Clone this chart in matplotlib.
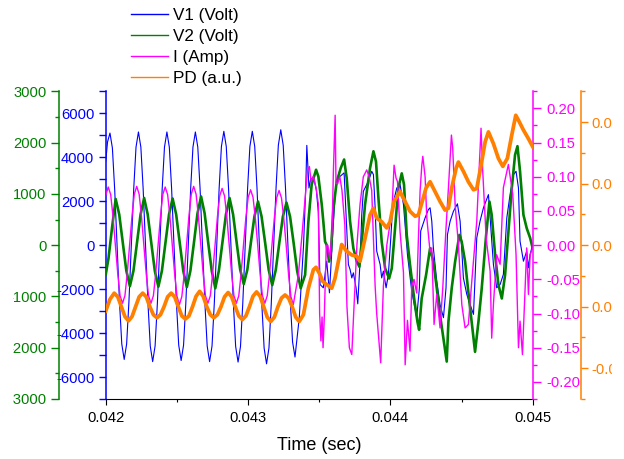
import numpy as np
import matplotlib
matplotlib.use('Agg')
import matplotlib.pyplot as plt
from matplotlib.ticker import MultipleLocator, FormatStrFormatter
from matplotlib.patches import Rectangle

plt.rcParams['font.family'] = ['Liberation Sans', 'DejaVu Sans']
plt.rcParams['axes.unicode_minus'] = False

# ---------------- data (time in ms) ----------------
v1_t_ms = [42.000, 42.013,
    42.030, 42.047, 42.063, 42.080, 42.097, 42.113, 42.130, 42.147, 42.163, 42.180, 42.197, 42.213,
    42.230, 42.247, 42.263, 42.280, 42.297, 42.313, 42.330, 42.347, 42.363, 42.380, 42.397, 42.413,
    42.430, 42.447, 42.463, 42.480, 42.497, 42.513, 42.530, 42.547, 42.563, 42.580, 42.597, 42.613,
    42.630, 42.647, 42.663, 42.680, 42.697, 42.713, 42.730, 42.747, 42.763, 42.780, 42.797, 42.813,
    42.830, 42.847, 42.863, 42.880, 42.897, 42.913, 42.930, 42.947, 42.963, 42.980, 42.997, 43.013,
    43.030, 43.047, 43.063, 43.080, 43.097, 43.113, 43.130, 43.147, 43.163, 43.180, 43.197, 43.213,
    43.230, 43.247, 43.263, 43.280, 43.297, 43.313, 43.330,
    43.360, 43.390, 43.405, 43.413, 43.428, 43.440, 43.460, 43.480, 43.494, 43.506,
    43.529, 43.553, 43.572, 43.600, 43.616, 43.635, 43.675, 43.693, 43.705, 43.717,
    43.729, 43.740, 43.759, 43.771, 43.787, 43.799, 43.810, 43.846, 43.869, 43.881,
    43.893, 43.904, 43.928, 43.939, 43.951, 43.970, 43.986, 44.003, 44.017, 44.045,
    44.068, 44.092, 44.120, 44.150, 44.185, 44.204, 44.213, 44.244, 44.267, 44.279,
    44.291, 44.302, 44.326, 44.349, 44.373, 44.391, 44.401, 44.420, 44.443, 44.471,
    44.490, 44.513, 44.537, 44.560, 44.584, 44.607, 44.630, 44.654, 44.689, 44.701,
    44.724, 44.747, 44.771, 44.794, 44.818, 44.841, 44.865, 44.883, 44.900, 44.911,
    44.935, 44.958, 44.970, 44.982, 45.000]
v1_volt = [3800, 4700,
    5100, 4420, 2550, 0, -2600, -4500, -5200, -4500, -2600, 0, 2580, 4460,
    5150, 4460, 2580, 0, -2650, -4590, -5300, -4590, -2650, 0, 2580, 4460,
    5150, 4460, 2580, 0, -2630, -4550, -5250, -4550, -2630, 0, 2580, 4460,
    5150, 4460, 2580, 0, -2650, -4590, -5300, -4590, -2650, 0, 2590, 4490,
    5180, 4490, 2590, 0, -2660, -4610, -5320, -4610, -2660, 0, 2590, 4490,
    5180, 4490, 2590, 0, -2700, -4680, -5400, -4680, -2700, 0, 2630, 4550,
    5250, 4550, 2630, 0, -2550, -4410, -5090,
    -3300, 0, 2500, 4540, 2600, 3000, 3100, 2500, 1500, -1790,
    -1940, -730, -2170, 1090, 2600, 3060, 3290, 790, -880, -1110,
    -1490, -1260, -1940, -2670, -730, 1390, 2450, 2910, 3360, 3210,
    1700, -270, -880, -1490, -1180, -1940, -1330, 330, 1850, 2600,
    2760, 1850, -420, -2090, -3300, -1940, 640, 1240, 1620, 1700,
    1090, -120, -1640, -2700, -3300, -1940, 480, 1090, 1540, 1880,
    1090, -1490, -2240, -2700, -3150, 330, 1090, 1700, 2300, 1240,
    -880, -1940, -1790, -1330, 1240, 2300, 3210, 3360, 2600, 180,
    -730, -270, -1030, -420, 30]

v2_t_ms = [42.000, 42.020, 42.045,
    42.070, 42.095, 42.120, 42.145, 42.170, 42.195, 42.220, 42.245,
    42.270, 42.295, 42.320, 42.345, 42.370, 42.395, 42.420, 42.445,
    42.470, 42.495, 42.520, 42.545, 42.570, 42.595, 42.620, 42.645,
    42.670, 42.695, 42.720, 42.745, 42.770, 42.795, 42.820, 42.845,
    42.870, 42.895, 42.920, 42.945, 42.970, 42.995, 43.020, 43.045,
    43.070, 43.095, 43.120, 43.145, 43.170, 43.195, 43.220, 43.245,
    43.270, 43.295, 43.320, 43.345, 43.370,
    43.401, 43.424, 43.447, 43.478, 43.494, 43.518, 43.529, 43.541, 43.553, 43.569,
    43.583, 43.600, 43.623, 43.651, 43.675, 43.693, 43.717, 43.740, 43.764, 43.782,
    43.799, 43.822, 43.857, 43.881, 43.899, 43.916, 43.939, 43.963, 43.991, 44.010,
    44.033, 44.056, 44.080, 44.096, 44.115, 44.138, 44.167, 44.190, 44.202, 44.220,
    44.251, 44.279, 44.302, 44.326, 44.349, 44.373, 44.396, 44.408, 44.431, 44.455,
    44.485, 44.501, 44.525, 44.555, 44.579, 44.595, 44.619, 44.642, 44.673, 44.696,
    44.712, 44.736, 44.759, 44.783, 44.806, 44.830, 44.853, 44.876, 44.893, 44.911,
    44.935, 44.958, 44.982, 45.000]
v2_volt = [-580, -250, 350,
    900, 600, 50, -500, -800, -500, 50, 600,
    920, 600, 50, -500, -810, -500, 50, 600,
    910, 600, 50, -500, -820, -500, 50, 620,
    950, 620, 50, -500, -840, -500, 50, 600,
    920, 600, 50, -480, -760, -480, 50, 560,
    850, 560, 50, -480, -780, -480, 50, 560,
    830, 560, 50, -500, -840,
    -580, 460, 1180, 1470, 1340, 790, 460, 70, 0, -320,
    -120, 720, 1240, 1500, 1670, 1310, 460, -60, -320, -420,
    70, 790, 1500, 1830, 1630, 920, 70, -450, -650, -450,
    330, 1110, 1400, 1180, 200, -380, -1040, -1490, -1650, -1040,
    -580, -60, -320, -840, -1360, -1820, -2270, -1490, -840, -320,
    200, 70, -320, -1100, -1690, -2080, -1490, -840, 200, 850,
    590, -190, -770, -1040, -580, 270, 1110, 1760, 1930, 1440,
    590, 330, 140, -60]

i_t_ms = [42.000,
    42.018, 42.035, 42.051, 42.068, 42.085, 42.101, 42.118, 42.135, 42.151, 42.168, 42.185, 42.201,
    42.218, 42.235, 42.251, 42.268, 42.285, 42.301, 42.318, 42.335, 42.351, 42.368, 42.385, 42.401,
    42.418, 42.435, 42.451, 42.468, 42.485, 42.501, 42.518, 42.535, 42.551, 42.568, 42.585, 42.601,
    42.618, 42.635, 42.651, 42.668, 42.685, 42.701, 42.718, 42.735, 42.751, 42.768, 42.785, 42.801,
    42.818, 42.835, 42.851, 42.868, 42.885, 42.901, 42.918, 42.935, 42.951, 42.968, 42.985, 43.001,
    43.018, 43.035, 43.051, 43.068, 43.085, 43.101, 43.118, 43.135, 43.151, 43.168, 43.185, 43.201,
    43.218, 43.235, 43.251, 43.268, 43.285, 43.301, 43.318,
    43.354, 43.377, 43.401, 43.417, 43.431, 43.443, 43.459, 43.478, 43.494, 43.503,
    43.512, 43.520, 43.527, 43.535, 43.550, 43.560, 43.575, 43.590, 43.600, 43.612,
    43.618, 43.630, 43.645, 43.660, 43.680, 43.695, 43.712, 43.729, 43.740, 43.765,
    43.787, 43.810, 43.834, 43.851, 43.869, 43.893, 43.904, 43.923, 43.932, 43.951,
    43.975, 44.000, 44.010, 44.026, 44.040, 44.050, 44.068, 44.092, 44.104, 44.120,
    44.138, 44.150, 44.166, 44.185, 44.197, 44.209, 44.221, 44.228, 44.244, 44.256,
    44.279, 44.291, 44.307, 44.326, 44.349, 44.368, 44.391, 44.408, 44.429, 44.438,
    44.455, 44.478, 44.502, 44.525, 44.548, 44.572, 44.607, 44.637, 44.649, 44.673,
    44.701, 44.712, 44.724, 44.747, 44.771, 44.794, 44.829, 44.860, 44.883, 44.900,
    44.911, 44.928, 44.947, 44.958, 44.970, 44.982, 45.000]
i_amp = [0.073,
    0.085, 0.074, 0.0425, 0, -0.0425, -0.074, -0.085, -0.074, -0.0425, 0, 0.043, 0.0745,
    0.086, 0.0745, 0.043, 0, -0.0425, -0.074, -0.085, -0.074, -0.0425, 0, 0.0425, 0.074,
    0.085, 0.074, 0.0425, 0, -0.0435, -0.075, -0.087, -0.075, -0.0435, 0, 0.043, 0.0745,
    0.086, 0.0745, 0.043, 0, -0.0425, -0.074, -0.085, -0.074, -0.0425, 0, 0.0415, 0.072,
    0.083, 0.072, 0.0415, 0, -0.0425, -0.074, -0.085, -0.074, -0.0425, 0, 0.0405, 0.070,
    0.081, 0.070, 0.0405, 0, -0.0425, -0.074, -0.085, -0.074, -0.0425, 0, 0.040, 0.069,
    0.080, 0.069, 0.040, 0, -0.0435, -0.075, -0.087,
    -0.043, 0.010, 0.069, 0.108, 0.115, 0.093, 0.101, 0.084, 0.060, -0.100,
    -0.140, -0.105, -0.150, -0.110, 0.000, 0.000, -0.020, 0.020, 0.110, 0.190,
    0.090, 0.090, 0.100, 0.080, 0.030, -0.090, -0.150, -0.160, -0.110, 0.000,
    0.060, 0.100, 0.110, 0.100, 0.080, -0.060, -0.100, -0.150, -0.172, -0.060,
    0.000, 0.035, 0.045, 0.117, 0.098, 0.093, 0.020, -0.040, -0.175, -0.110,
    -0.155, -0.060, -0.050, -0.070, 0.010, 0.080, 0.117, 0.130, 0.100, 0.040,
    -0.010, -0.004, -0.116, -0.072, -0.121, -0.063, 0.025, 0.084, 0.161, 0.142,
    0.059, 0.001, -0.087, -0.121, -0.116, -0.053, 0.035, 0.171, 0.108, 0.010,
    -0.038, -0.136, -0.087, -0.014, -0.028, 0.084, 0.118, 0.074, -0.014, -0.150,
    -0.111, -0.160, -0.063, -0.004, -0.072, -0.014, -0.004]

pd_t_ms = [42.000, 42.030,
    42.060, 42.085, 42.110, 42.135, 42.160, 42.185, 42.210, 42.235,
    42.260, 42.285, 42.310, 42.335, 42.360, 42.385, 42.410, 42.435,
    42.460, 42.485, 42.510, 42.535, 42.560, 42.585, 42.610, 42.635,
    42.660, 42.685, 42.710, 42.735, 42.760, 42.785, 42.810, 42.835,
    42.860, 42.885, 42.910, 42.935, 42.960, 42.985, 43.010, 43.035,
    43.060, 43.085, 43.110, 43.135, 43.160, 43.185, 43.210, 43.235,
    43.260, 43.285, 43.310, 43.335, 43.360,
    43.389, 43.424, 43.459, 43.478, 43.506, 43.525, 43.553, 43.588, 43.611, 43.635,
    43.658, 43.693, 43.729, 43.764, 43.787, 43.822, 43.857, 43.881, 43.904, 43.939,
    43.974, 43.998, 44.026, 44.068, 44.103, 44.138, 44.174, 44.197, 44.220, 44.251,
    44.279, 44.314, 44.349, 44.384, 44.408, 44.431, 44.462, 44.478, 44.513, 44.548,
    44.584, 44.607, 44.642, 44.666, 44.689, 44.724, 44.759, 44.790, 44.822, 44.853,
    44.881, 44.900, 44.935, 44.970, 45.000]
pd_au = [-0.0007, 0.0012,
    0.0022, 0.0016, 0.0000, -0.0016, -0.0023, -0.0016, 0.0000, 0.0016,
    0.0022, 0.0016, 0.0000, -0.0013, -0.0018, -0.0013, 0.0000, 0.0016,
    0.0022, 0.0016, 0.0000, -0.0015, -0.0020, -0.0015, 0.0000, 0.0017,
    0.0025, 0.0017, 0.0000, -0.0013, -0.0018, -0.0013, 0.0000, 0.0016,
    0.0023, 0.0016, 0.0000, -0.0015, -0.0021, -0.0015, 0.0000, 0.0017,
    0.0024, 0.0017, 0.0000, -0.0017, -0.0024, -0.0017, 0.0000, 0.0014,
    0.0019, 0.0014, 0.0000, -0.0017, -0.0024,
    -0.0013, 0.0030, 0.0060, 0.0064, 0.0052, 0.0041, 0.0036, 0.0030, 0.0046, 0.0074,
    0.0101, 0.0090, 0.0084, 0.0082, 0.0074, 0.0111, 0.0149, 0.0160, 0.0144, 0.0138,
    0.0128, 0.0138, 0.0171, 0.0187, 0.0171, 0.0155, 0.0147, 0.0149, 0.0168, 0.0193,
    0.0203, 0.0187, 0.0171, 0.0157, 0.0160, 0.0193, 0.0225, 0.0235, 0.0220, 0.0203,
    0.0190, 0.0192, 0.0236, 0.0268, 0.0284, 0.0265, 0.0241, 0.0228, 0.0241, 0.0279,
    0.0311, 0.0303, 0.0287, 0.0273, 0.0260]

labels = ['V1 (Volt)', 'V2 (Volt)', 'I (Amp)', 'PD (a.u.)']
x_ticks = [0.042, 0.043, 0.044, 0.045]

BLUE, GREEN, MAGENTA, ORANGE = '#0000FF', '#008000', '#FF00FF', '#FF8000'

# ---------------- layout ----------------
W, H = 624, 459
L, R, T, B = 105.7, 532.7, 91.3, 399.0
fig = plt.figure(figsize=(W / 100, H / 100), dpi=100)
ax = fig.add_axes([L / W, 1 - B / H, (R - L) / W, (B - T) / H])
axg = ax.twinx()
axm = ax.twinx()
axo = ax.twinx()

l1, = ax.plot(np.array(v1_t_ms) * 1e-3, v1_volt, color=BLUE, lw=0.8)
l2, = axg.plot(np.array(v2_t_ms) * 1e-3, v2_volt, color=GREEN, lw=1.9)
l3, = axm.plot(np.array(i_t_ms) * 1e-3, i_amp, color=MAGENTA, lw=1.0)
l4, = axo.plot(np.array(pd_t_ms) * 1e-3, pd_au, color=ORANGE, lw=2.7)

ax.set_xlim(0.042, 0.045)
ax.set_xticks(x_ticks)
ax.xaxis.set_minor_locator(MultipleLocator(0.0005))
ax.xaxis.set_major_formatter(FormatStrFormatter('%.3f'))
ax.set_xlabel('Time (sec)', fontsize=13, labelpad=8.5)

ax.set_ylim(-7000, 7000)
axg.set_ylim(-3000, 3000)
axm.set_ylim(-0.225, 0.225)
axo.set_ylim(-0.015, 0.035)

for a in (ax, axg, axm, axo):
    for s in ('top', 'right', 'left', 'bottom'):
        a.spines[s].set_visible(False)

ax.spines['bottom'].set_visible(True)
ax.spines['bottom'].set_color('black')
ax.spines['left'].set_visible(True)
ax.spines['left'].set_color(BLUE)
ax.spines['left'].set_linewidth(1.1)
ax.tick_params(axis='x', which='major', direction='out', length=4.3, width=0.8,
               labelsize=10.6, pad=4.5, colors='black')
ax.tick_params(axis='x', which='minor', direction='out', length=2.4, width=0.8)

ax.yaxis.set_major_locator(MultipleLocator(2000))
ax.yaxis.set_minor_locator(MultipleLocator(1000))
ax.yaxis.set_major_formatter(FormatStrFormatter('%d'))
ax.tick_params(axis='y', which='major', direction='out', length=4.8, width=1.0,
               labelsize=10.6, pad=3.4, colors=BLUE)
ax.tick_params(axis='y', which='minor', direction='out', length=4.8, width=1.0, colors=BLUE)

# green axis (left, outward)
axg.yaxis.tick_left()
axg.yaxis.set_label_position('left')
axg.spines['left'].set_visible(True)
axg.spines['left'].set_position(('outward', 33.6))
axg.spines['left'].set_color(GREEN)
axg.spines['left'].set_linewidth(1.1)
axg.yaxis.set_major_locator(MultipleLocator(1000))
axg.yaxis.set_minor_locator(MultipleLocator(500))
axg.yaxis.set_major_formatter(FormatStrFormatter('%d'))
axg.tick_params(axis='y', which='major', direction='out', length=5.5, width=1.0,
                labelsize=10.6, pad=3.4, colors=GREEN)
axg.tick_params(axis='y', which='minor', direction='out', length=3.0, width=1.0, colors=GREEN)

# magenta axis (right)
axm.spines['right'].set_visible(True)
axm.spines['right'].set_color(MAGENTA)
axm.spines['right'].set_linewidth(1.1)
axm.yaxis.set_major_locator(MultipleLocator(0.05))
axm.yaxis.set_minor_locator(MultipleLocator(0.025))
axm.yaxis.set_major_formatter(FormatStrFormatter('%.2f'))
axm.tick_params(axis='y', which='major', direction='out', length=5.8, width=1.0,
                labelsize=10.6, pad=3.8, colors=MAGENTA)
axm.tick_params(axis='y', which='minor', direction='out', length=3.0, width=1.0, colors=MAGENTA)

# orange axis (right, outward)
axo.spines['right'].set_visible(True)
axo.spines['right'].set_position(('outward', 34.8))
axo.spines['right'].set_color(ORANGE)
axo.spines['right'].set_linewidth(1.1)
axo.yaxis.set_major_locator(MultipleLocator(0.01))
axo.yaxis.set_minor_locator(MultipleLocator(0.005))
axo.yaxis.set_major_formatter(FormatStrFormatter('%.2f'))
axo.tick_params(axis='y', which='major', direction='out', length=5.3, width=1.0,
                labelsize=10.6, pad=2.5, colors=ORANGE)
axo.tick_params(axis='y', which='minor', direction='out', length=3.0, width=1.0, colors=ORANGE)

leg = fig.legend([l1, l2, l3, l4], labels, loc='upper left',
                 bbox_to_anchor=(131 / W, 1 - 8 / H), frameon=False, fontsize=12.3,
                 handlelength=2.16, handletextpad=0.3, labelspacing=0.36,
                 borderpad=0, borderaxespad=0)
for ln in leg.get_lines():
    ln.set_linewidth(1.0)

# the reference image is cropped at both sides
fig.patches.append(Rectangle((0, 0), 12.6 / W, 1, transform=fig.transFigure,
                             facecolor='white', edgecolor='none', zorder=10))
fig.patches.append(Rectangle((612 / W, 0), 12 / W, 1, transform=fig.transFigure,
                             facecolor='white', edgecolor='none', zorder=10))

fig.savefig('out.png', dpi=100)
